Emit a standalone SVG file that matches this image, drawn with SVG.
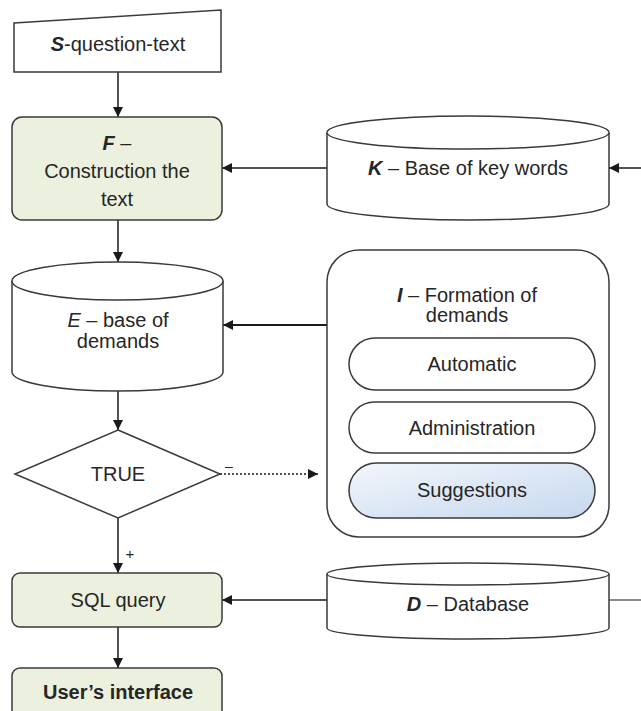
<svg xmlns="http://www.w3.org/2000/svg" width="641" height="711" viewBox="0 0 641 711">
<defs>
<marker id="ah" viewBox="0 0 10 10" refX="10" refY="5" markerWidth="10" markerHeight="10" markerUnits="userSpaceOnUse" orient="auto">
<path d="M0,0 L10,5 L0,10 Z" fill="#1a1a1a"/>
</marker>
<linearGradient id="sg" x1="0" y1="0" x2="1" y2="1">
<stop offset="0" stop-color="#f3f6fb"/>
<stop offset="1" stop-color="#c6d8ef"/>
</linearGradient>
<style>
.s{stroke:#3a3a3a;stroke-width:1.5;fill:#fff}
.g{fill:#ebf1de}
.t{font-family:"Liberation Sans",Arial,sans-serif;font-size:20px;fill:#262626;text-anchor:middle;dominant-baseline:central}
.c{stroke:#1a1a1a;stroke-width:1.5;fill:none;marker-end:url(#ah)}
</style>
</defs>
<rect width="641" height="711" fill="#fff"/>
<g id="connectors">
<line class="c" x1="118" y1="72" x2="118" y2="117"/>
<line class="c" x1="641" y1="168" x2="609" y2="168"/>
<line class="c" x1="327" y1="168" x2="222" y2="168"/>
<line class="c" x1="118" y1="220" x2="118" y2="262"/>
<line class="c" x1="327" y1="325" x2="223" y2="325" style="stroke-width:2.2"/>
<line class="c" x1="118" y1="391" x2="118" y2="430"/>
<line class="c" x1="220" y1="474" x2="318" y2="474" style="stroke-dasharray:2 2"/>
<text class="t" x="229" y="466" style="font-size:14px">–</text>
<line class="c" x1="118" y1="518" x2="118" y2="573"/>
<text class="t" x="130" y="553" style="font-size:15px">+</text>
<line class="c" x1="327" y1="600" x2="222" y2="600"/>
<line x1="609" y1="600" x2="641" y2="600" stroke="#3a3a3a" stroke-width="1.2"/>
<line class="c" x1="118" y1="627" x2="118" y2="668"/>
</g>
<g id="S">
<path class="s" d="M14,23 L221,10 L221,72 L14,72 Z"/>
<text class="t" x="118" y="44"><tspan font-weight="bold" font-style="italic">S</tspan>-question-text</text>
</g>
<g id="F">
<rect class="s g" x="12" y="117" width="210" height="103" rx="10"/>
<text class="t" x="117" y="143"><tspan font-weight="bold" font-style="italic">F</tspan> –</text>
<text class="t" x="117" y="171">Construction the</text>
<text class="t" x="117" y="199">text</text>
</g>
<g id="K">
<path class="s" d="M327,132.5 A141,16.5 0 0 1 609,132.5 L609,204 A141,16 0 0 1 327,204 Z"/>
<path class="s" d="M327,132.5 A141,16.5 0 0 0 609,132.5" fill="none"/>
<text class="t" x="468" y="168"><tspan font-weight="bold" font-style="italic">K</tspan> – Base of key words</text>
</g>
<g id="E">
<path class="s" d="M12,281 A105.5,19 0 0 1 223,281 L223,372 A105.5,19 0 0 1 12,372 Z"/>
<path class="s" d="M12,281 A105.5,19 0 0 0 223,281" fill="none"/>
<text class="t" x="118" y="320"><tspan font-style="italic">E</tspan> – base of</text>
<text class="t" x="118" y="341">demands</text>
</g>
<g id="I">
<rect class="s" x="327" y="250" width="282" height="287" rx="32"/>
<text class="t" x="467" y="295"><tspan font-weight="bold" font-style="italic">I</tspan> – Formation of</text>
<text class="t" x="467" y="315">demands</text>
</g>
<g id="Automatic">
<rect class="s" x="349" y="338" width="246" height="52" rx="26"/>
<text class="t" x="472" y="364">Automatic</text>
</g>
<g id="Administration">
<rect class="s" x="349" y="402" width="246" height="51" rx="25.5"/>
<text class="t" x="472" y="428">Administration</text>
</g>
<g id="Suggestions">
<rect class="s" x="349" y="463" width="246" height="55" rx="27.5" style="fill:url(#sg)"/>
<text class="t" x="472" y="490">Suggestions</text>
</g>
<g id="TRUE">
<path class="s" d="M118,430 L220,474 L118,518 L15,474 Z"/>
<text class="t" x="118" y="474">TRUE</text>
</g>
<g id="SQL">
<rect class="s g" x="12" y="573" width="210" height="54" rx="8"/>
<text class="t" x="118" y="600">SQL query</text>
</g>
<g id="D">
<path class="s" d="M327,574 A141,11 0 0 1 609,574 L609,628 A141,11 0 0 1 327,628 Z"/>
<path class="s" d="M327,574 A141,11 0 0 0 609,574" fill="none"/>
<text class="t" x="468" y="604"><tspan font-weight="bold" font-style="italic">D</tspan> – Database</text>
</g>
<g id="User">
<rect class="s g" x="12" y="668" width="210" height="60" rx="8"/>
<text class="t" x="118" y="692" font-weight="bold">User’s interface</text>
</g>
</svg>
